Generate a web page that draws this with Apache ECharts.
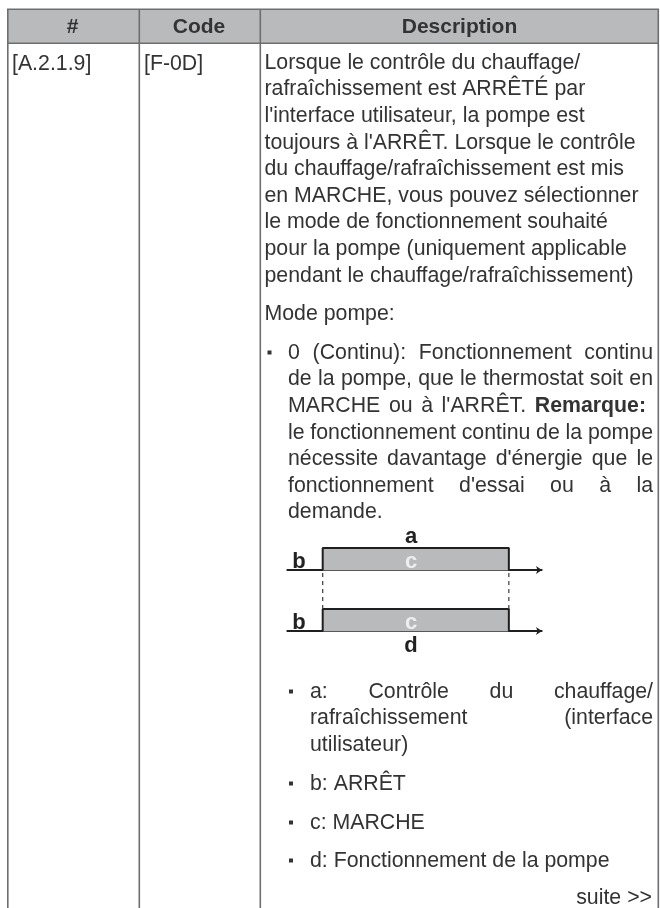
<!DOCTYPE html>
<html><head><meta charset="utf-8">
<style>html,body{margin:0;padding:0;background:#fff}#c{width:660px;height:908px}</style>
<script src="https://cdn.jsdelivr.net/npm/echarts@6/dist/echarts.min.js"></script>
</head><body><div id="c"></div>
<script>
// ---- table content ----
const headerLabels = ['#', 'Code', 'Description'];
const rowId = '[A.2.1.9]';
const rowCode = '[F-0D]';
const introLines = [
  "Lorsque le contrôle du chauffage/",
  "rafraîchissement est ARRÊTÉ par",
  "l'interface utilisateur, la pompe est",
  "toujours à l'ARRÊT. Lorsque le contrôle",
  "du chauffage/rafraîchissement est mis",
  "en MARCHE, vous pouvez sélectionner",
  "le mode de fonctionnement souhaité",
  "pour la pompe (uniquement applicable",
  "pendant le chauffage/rafraîchissement)"
];
const modeTitle = "Mode pompe:";
const modeLines = [
  "0 (Continu): Fonctionnement continu",
  "de la pompe, que le thermostat soit en",
  "MARCHE ou à l'ARRÊT. *Remarque:*",
  "le fonctionnement continu de la pompe",
  "nécessite davantage d'énergie que le",
  "fonctionnement d'essai ou à la",
  "demande."
];
const legendA = ["a: Contrôle du chauffage/", "rafraîchissement (interface", "utilisateur)"];
const legendB = "b: ARRÊT";
const legendC = "c: MARCHE";
const legendD = "d: Fonctionnement de la pompe";
const moreLabel = "suite >>";
// ---- signal diagram (time in arbitrary units, level 0 = off, 1 = on) ----
const signalTimes = [0, 1.4, 1.4, 8.7, 8.7, 10];
const signalLevels = [0, 0, 1, 1, 0, 0];
const connectorX = [1.4, 8.7];
const diagramLetters = { top: 'a', off: 'b', on: 'c', bottom: 'd' };

const FONT = '"Liberation Sans", Arial, sans-serif';
const TXT = '#333335', BORDER = '#6d6e71', HEAD = '#b9babc';
const FS = 21.3;
const ctx = document.createElement('canvas').getContext('2d');
function w(t, bold){ ctx.font = (bold?'bold ':'') + FS + 'px ' + FONT; return ctx.measureText(t).width; }
const g = [];
function text(t, x, y, o){ o=o||{}; g.push({type:'text', silent:true, z:100, x, y, style:{text:t, fill:o.fill||TXT, font:(o.bold?'bold ':'')+(o.fs||FS)+'px '+FONT, textAlign:o.align||'left', textVerticalAlign:'middle'}}); }
function line(t, x, y, right){
  const words = t.split(' ').map(s=>{const b=s[0]==='*'; return {s:s.replace(/\*/g,''), b};});
  const total = words.reduce((a,k)=>a+w(k.s,k.b),0);
  const gap = right!=null && words.length>1 ? (right-x-total)/(words.length-1) : w(' ');
  let cx=x;
  words.forEach(k=>{ text(k.s,cx,y,{bold:k.b}); cx+=w(k.s,k.b)+gap; });
}
function rect(x,y,wd,h,fill){ g.push({type:'rect',silent:true,shape:{x,y,width:wd,height:h},style:{fill}}); }
function bullet(x,y){ rect(x,y-2.5,4,4,TXT); }

// table frame
rect(7,9,652,34,HEAD);
[[7,9,1.6,899],[138.5,9,1.6,899],[259.5,9,1.6,899],[657.5,9,1.6,899],[7,8.5,652,1.6],[7,42.5,652,1.6]].forEach(r=>rect(r[0],r[1],r[2],r[3],BORDER));
text(headerLabels[0],72.5,27,{bold:true,align:'center',fs:21});
text(headerLabels[1],199,27,{bold:true,align:'center',fs:21});
text(headerLabels[2],459.5,27,{bold:true,align:'center',fs:21});
text(rowId,12,64);
text(rowCode,144,64);
introLines.forEach((l,i)=>text(l,264.5,63+i*26.6));
text(modeTitle,264.5,314);
const modeRight = [653,653,646,653,653,653,null];
modeLines.forEach((l,i)=>line(l,288,353+i*26.6,modeRight[i]));
bullet(267.5,353);
legendA.forEach((l,i)=>line(l,310,692+i*26.6,i<2?653:null));
bullet(289,692);
line(legendB,310,784); bullet(289,784);
line(legendC,310,823); bullet(289,823);
line(legendD,310,861); bullet(289,861);
text(moreLabel,652,898,{align:'right'});
// diagram letters
text(diagramLetters.top,411,537,{bold:true,align:'center',fs:22,fill:'#222'});
text(diagramLetters.off,299,562,{bold:true,align:'center',fs:22,fill:'#222'});
text(diagramLetters.on,411,562,{bold:true,align:'center',fs:22,fill:'#eee'});
text(diagramLetters.off,299,623,{bold:true,align:'center',fs:22,fill:'#222'});
text(diagramLetters.on,411,623,{bold:true,align:'center',fs:22,fill:'#eee'});
text(diagramLetters.bottom,411,646,{bold:true,align:'center',fs:22,fill:'#222'});

const pairs = signalTimes.map((t,i)=>[t,signalLevels[i]]);
const grids = [
  {left:287,width:255,top:548,height:22},
  {left:287,width:255,top:609,height:22},
  {left:287,width:255,top:570,height:39}
];
const xAxes = grids.map((_,i)=>({gridIndex:i,type:'value',min:0,max:10,show:i<2,splitLine:{show:false},axisTick:{show:false},axisLabel:{show:false},
  axisLine:{show:true,onZero:false,symbol:['none','arrow'],symbolSize:[6,6],lineStyle:{color:'#222',width:1.6}}}));
const yAxes = grids.map((_,i)=>({gridIndex:i,type:'value',min:0,max:1,show:false}));
const sig = i=>({type:'line',xAxisIndex:i,yAxisIndex:i,data:pairs,symbol:'none',animation:false,silent:true,
  lineStyle:{color:'#1f1f1f',width:2},areaStyle:{color:'#b9babc',opacity:1}});
const conn = x=>({type:'line',xAxisIndex:2,yAxisIndex:2,data:[[x,0],[x,1]],symbol:'none',animation:false,silent:true,
  lineStyle:{color:'#3a3a3c',width:1.2,type:[4,4]}});
const chart = echarts.init(document.getElementById('c'),null,{renderer:'canvas'});
chart.setOption({animation:false,backgroundColor:'#fff',grid:grids,xAxis:xAxes,yAxis:yAxes,
  series:[sig(0),sig(1),conn(connectorX[0]),conn(connectorX[1])],graphic:{elements:g}});
</script></body></html>
